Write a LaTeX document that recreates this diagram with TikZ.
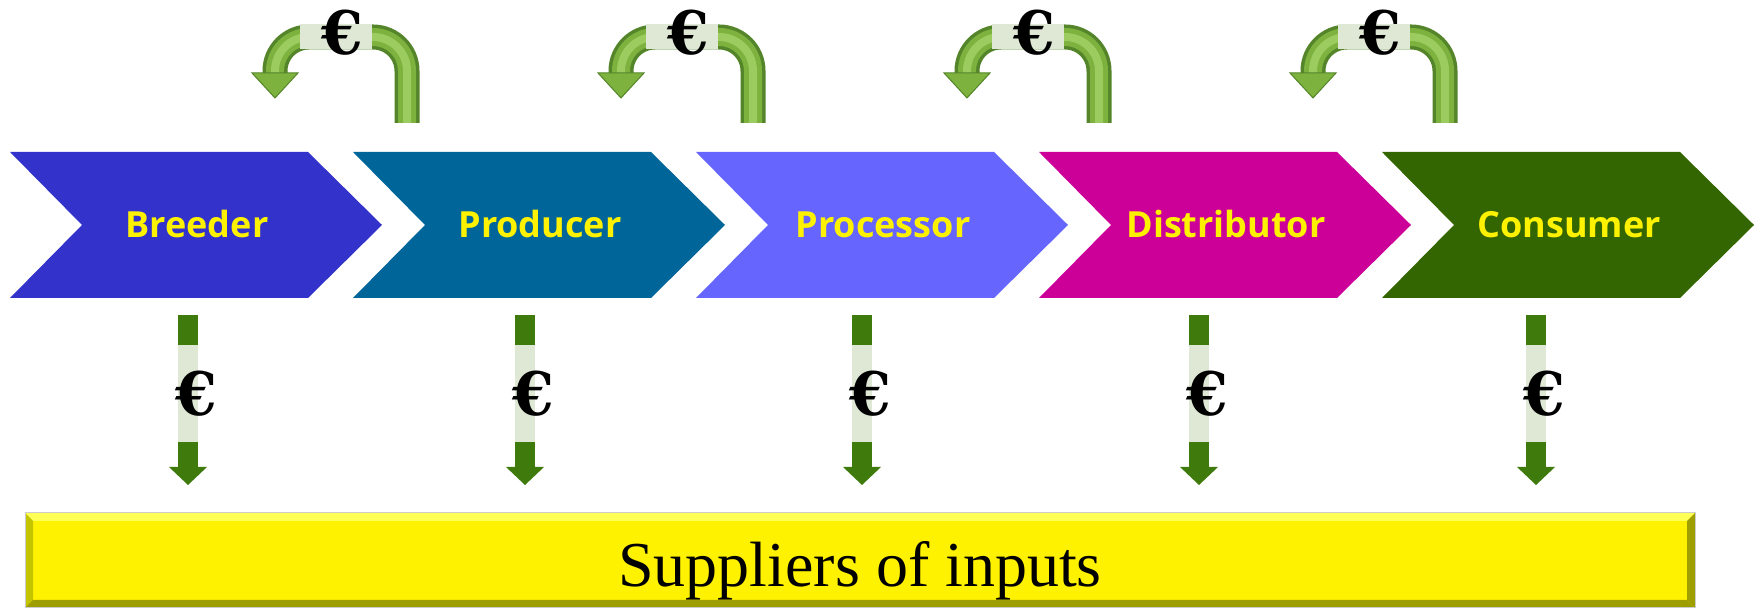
\documentclass[tikz,border=0pt]{standalone}
\usepackage{fontspec}
\setmainfont{Liberation Serif}
\newfontfamily\chevfont{Open Sans}
\newfontfamily\eurofont{DejaVu Serif}
\definecolor{cBreeder}{HTML}{3333CC}
\definecolor{cProducer}{HTML}{006699}
\definecolor{cProcessor}{HTML}{6666FF}
\definecolor{cDistributor}{HTML}{CC0099}
\definecolor{cConsumer}{HTML}{336600}
\definecolor{downgreen}{HTML}{3F7A0C}
\definecolor{pale}{HTML}{DEE8D4}
\definecolor{tubedark}{HTML}{55852A}
\definecolor{tubemid}{HTML}{7DB23E}
\definecolor{tubelight}{HTML}{9CCB60}
\definecolor{barlight}{HTML}{FFFF55}
\definecolor{bardark}{HTML}{C4C400}
\definecolor{bardarker}{HTML}{9E9E00}
\begin{document}
\begin{tikzpicture}[x=1pt,y=1pt,
  chevlabel/.style={font=\chevfont\bfseries\fontsize{36}{36}\selectfont,text=yellow,inner sep=0pt},
  euro/.style={font=\eurofont\bfseries\fontsize{60}{60}\selectfont,inner sep=0pt},
  shaft/.style={line width=20pt,downgreen}]
\useasboundingbox (0,0) rectangle (1761,609);
% chain of actors
\foreach \i/\nm/\col/\txt in {0/breeder/cBreeder/Breeder,1/producer/cProducer/Producer,
    2/processor/cProcessor/Processor,3/distributor/cDistributor/Distributor,4/consumer/cConsumer/Consumer}{
  \fill[\col] (10+343*\i,457) -- ++(298,0) -- ++(74,-73) -- ++(-74,-73) -- ++(-298,0) -- ++(72,73) -- cycle;
  \node[chevlabel,anchor=base] (\nm) at (197+343*\i,371) {\txt};
}
% payments back up the chain
\foreach \i in {0,...,3}{
  \coordinate (ustart\i) at (407+346*\i,486);
  \coordinate (uend\i) at (275+346*\i,536);
  \coordinate (utip\i) at (275+346*\i,511);
  \foreach \w/\c in {25pt/tubedark,18pt/tubemid,8pt/tubelight}
    \draw[line width=\w,\c,rounded corners=34pt] (ustart\i) |- ([yshift=36pt]uend\i) -- (uend\i);
  \fill[pale] ([xshift=25pt,yshift=23.5pt]uend\i) rectangle ([xshift=97pt,yshift=48.5pt]uend\i);
  \fill[tubemid,draw=tubedark,line width=1pt] ([xshift=-23pt]uend\i) -- ([xshift=23pt]uend\i) -- (utip\i) -- cycle;
  \node[euro] (ue\i) at ([xshift=67pt,yshift=40pt]uend\i) {€};
}
% payments to suppliers
\foreach \i in {0,...,4}{
  \coordinate (dtop\i) at (188+337*\i,294);
  \coordinate (dbase\i) at (188+337*\i,142);
  \coordinate (dtip\i) at (188+337*\i,124);
  \draw[shaft] (dtop\i) -- (dbase\i);
  \draw[shaft,pale] ([yshift=-30pt]dtop\i) -- ([yshift=25pt]dbase\i);
  \fill[downgreen] ([xshift=-19pt]dbase\i) -- ([xshift=19pt]dbase\i) -- (dtip\i) -- cycle;
  \node[euro] (de\i) at ([xshift=8pt,yshift=-79pt]dtop\i) {€};
}
% suppliers bar
\fill[yellow] (25,1) rectangle (1695,96);
\fill[barlight] (25,96) -- (1695,96) -- (1687,88) -- (33,88) -- cycle;
\fill[bardark] (25,96) -- (33,88) -- (33,9) -- (25,1) -- cycle;
\fill[bardarker] (25,1) -- (33,9) -- (1687,9) -- (1695,1) -- cycle;
\fill[bardarker] (1695,96) -- (1687,88) -- (1687,9) -- (1695,1) -- cycle;
\draw[black!20,line width=1pt] (25,1) rectangle (1695,96);
\node[font=\fontsize{64}{64}\selectfont,anchor=base] (suppliers) at (860,22) {Suppliers of inputs};
\end{tikzpicture}
\end{document}
